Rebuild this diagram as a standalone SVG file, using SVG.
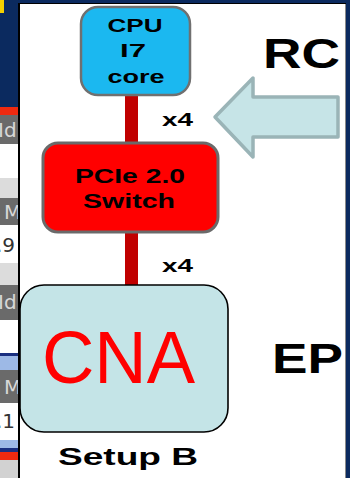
<svg xmlns="http://www.w3.org/2000/svg" width="350" height="478" viewBox="0 0 350 478">
  <style>
    .lbl { font-family: "Liberation Sans", Arial, sans-serif; font-weight: bold; fill: #000; }
    .cell { font-family: "DejaVu Sans", sans-serif; font-size: 20px; }
  </style>
  <defs>
    <clipPath id="stripClip"><rect x="0" y="0" width="18" height="478"/></clipPath>
  </defs>

  <!-- window background -->
  <rect x="0" y="0" width="350" height="478" fill="#0b2a5f"/>

  <!-- side strip of neighbouring table -->
  <g id="side-strip" clip-path="url(#stripClip)">
    <rect x="0" y="0" width="4" height="13" fill="#f5d000"/>
    <rect x="0" y="107" width="18" height="8" fill="#ee2a10"/>
    <rect x="0" y="115" width="18" height="29" fill="#6a6a6a"/>
    <text class="cell" x="-2" y="137" fill="#d8d8d8">Id</text>
    <rect x="0" y="144" width="18" height="34" fill="#ffffff"/>
    <rect x="0" y="178" width="18" height="20" fill="#dcdcdc"/>
    <rect x="0" y="198" width="18" height="27" fill="#6a6a6a"/>
    <text class="cell" x="4" y="219" fill="#d8d8d8">M</text>
    <rect x="0" y="225" width="18" height="38" fill="#ffffff"/>
    <text class="cell" x="-4" y="252" fill="#333">.9</text>
    <rect x="0" y="263" width="18" height="22" fill="#dcdcdc"/>
    <rect x="0" y="285" width="18" height="35" fill="#6a6a6a"/>
    <text class="cell" x="-2" y="309" fill="#d8d8d8">Id</text>
    <rect x="0" y="320" width="18" height="33" fill="#ffffff"/>
    <rect x="0" y="353" width="18" height="3" fill="#1a2f80"/>
    <rect x="0" y="356" width="18" height="14" fill="#9db9e6"/>
    <rect x="0" y="370" width="18" height="33" fill="#6a6a6a"/>
    <text class="cell" x="4" y="394" fill="#d8d8d8">M</text>
    <rect x="0" y="403" width="18" height="37" fill="#ffffff"/>
    <text class="cell" x="-4" y="428" fill="#333">.1</text>
    <rect x="0" y="440" width="18" height="8" fill="#9db9e6"/>
    <rect x="0" y="448" width="18" height="4" fill="#1a2f80"/>
    <rect x="0" y="452" width="18" height="8" fill="#ee2a10"/>
    <rect x="0" y="460" width="18" height="18" fill="#d2d2d2"/>
  </g>

  <!-- slide panel -->
  <rect x="18" y="3" width="328" height="475" fill="#000"/>
  <rect x="20" y="4" width="326" height="474" fill="#ffffff"/>
  <rect x="345" y="4" width="1" height="474" fill="#8a8a8a"/>

  <!-- connectors -->
  <g id="connectors" fill="#c00000">
    <rect x="125" y="93" width="13" height="52"/>
    <rect x="125" y="230" width="13" height="57"/>
  </g>

  <g id="cpu">
    <rect x="81" y="7" width="109" height="88" rx="17" fill="#1bb8f0" stroke="#707070" stroke-width="2.5"/>
    <text class="lbl" x="135" y="32" font-size="19" text-anchor="middle" textLength="55" lengthAdjust="spacingAndGlyphs">CPU</text>
    <text class="lbl" x="133" y="57" font-size="19" text-anchor="middle" textLength="26" lengthAdjust="spacingAndGlyphs">I7</text>
    <text class="lbl" x="136" y="83" font-size="19" text-anchor="middle" textLength="57" lengthAdjust="spacingAndGlyphs">core</text>
  </g>

  <g id="link-upper">
    <text class="lbl" x="162" y="126" font-size="18" textLength="31" lengthAdjust="spacingAndGlyphs">x4</text>
  </g>

  <g id="pcie-switch">
    <rect x="43" y="143" width="175" height="89" rx="15" fill="#ff0000" stroke="#6a6a6a" stroke-width="3"/>
    <text class="lbl" x="130" y="183" font-size="21" text-anchor="middle" textLength="110" lengthAdjust="spacingAndGlyphs">PCIe 2.0</text>
    <text class="lbl" x="129" y="208" font-size="21" text-anchor="middle" textLength="92" lengthAdjust="spacingAndGlyphs">Switch</text>
  </g>

  <g id="link-lower">
    <text class="lbl" x="162" y="272" font-size="18" textLength="31" lengthAdjust="spacingAndGlyphs">x4</text>
  </g>

  <g id="rc-label">
    <text class="lbl" x="263" y="68" font-size="42" textLength="77" lengthAdjust="spacingAndGlyphs">RC</text>
    <polygon points="215,117 253,78 253,97 338,97 338,137 253,137 253,157" fill="#c6e4e7" stroke="#9ab4b7" stroke-width="3.5" stroke-linejoin="round"/>
  </g>

  <g id="cna">
    <rect x="20" y="285" width="208" height="147" rx="24" fill="#c4e4e7" stroke="#000" stroke-width="1.6"/>
    <text x="42" y="383" font-family="Liberation Sans, Arial, sans-serif" font-size="74" fill="#ff0000" textLength="153" lengthAdjust="spacingAndGlyphs">CNA</text>
  </g>

  <g id="ep-label">
    <text class="lbl" x="272" y="373" font-size="43" textLength="71" lengthAdjust="spacingAndGlyphs">EP</text>
  </g>

  <g id="caption">
    <text class="lbl" x="58" y="465" font-size="24" textLength="140" lengthAdjust="spacingAndGlyphs">Setup B</text>
  </g>
</svg>
